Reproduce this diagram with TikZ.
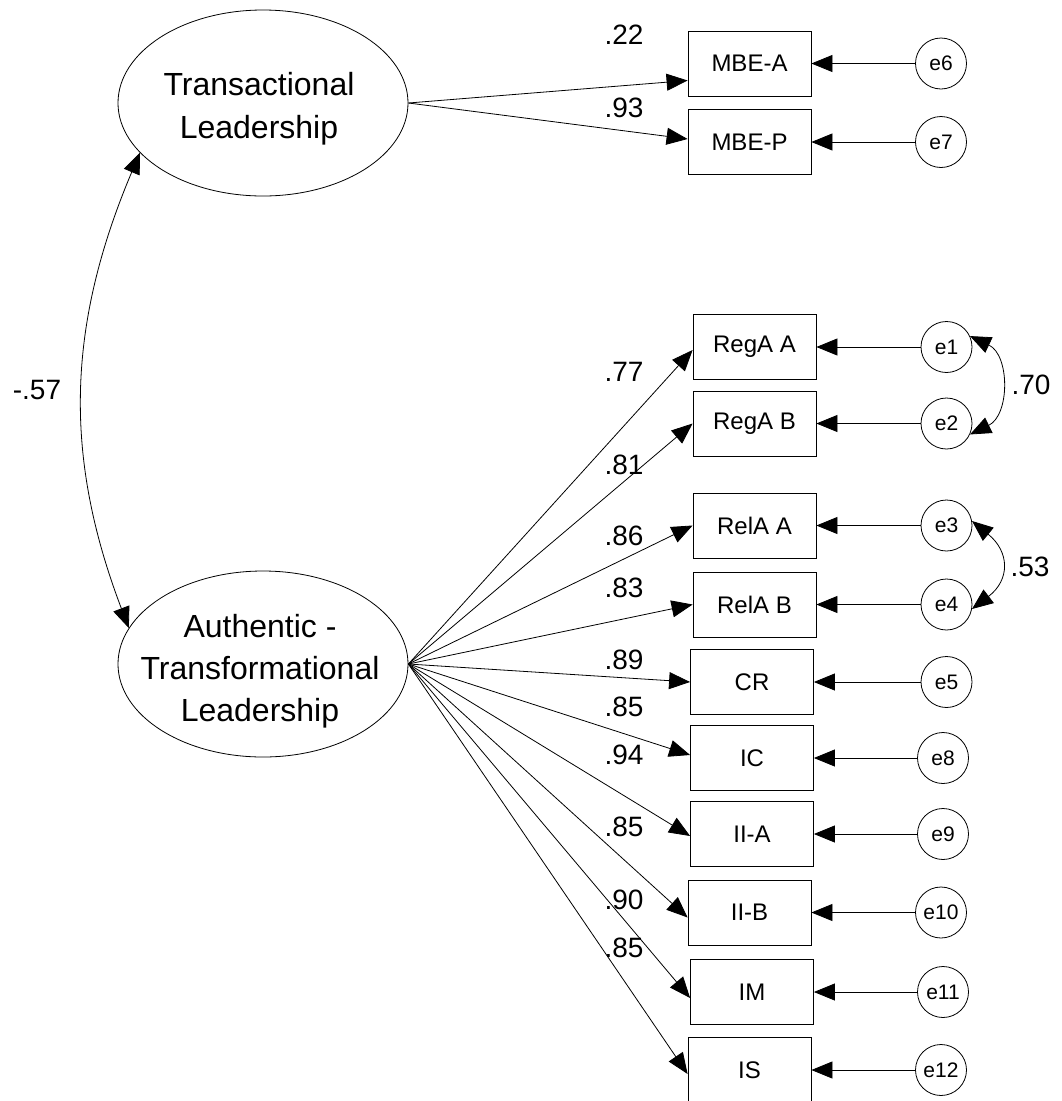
\documentclass[tikz,border=0pt]{standalone}
\usepackage{fontspec}
\setmainfont{Liberation Sans}
\usetikzlibrary{arrows.meta,shapes.geometric}
\begin{document}
\begin{tikzpicture}[x=1pt,y=-1pt,
  lat/.style={ellipse,draw,line width=0.8pt,minimum width=290pt,minimum height=186pt,inner sep=0pt},
  lattext/.style={inner sep=0pt,align=center},
  obs/.style={rectangle,draw,line width=0.8pt,minimum width=123pt,minimum height=65pt,inner sep=0pt,font=\fontsize{24}{28}\selectfont},
  err/.style={circle,draw,line width=0.8pt,minimum size=51pt,inner sep=0pt,font=\fontsize{21}{24}\selectfont},
  coef/.style={inner sep=0pt,font=\fontsize{28}{32}\selectfont},
  arr/.style={-{Triangle[length=21pt,width=17pt]},line width=0.8pt},
  dblarr/.style={{Triangle[length=21pt,width=17pt]}-{Triangle[length=21pt,width=17pt]},line width=0.8pt}
]
\useasboundingbox (0,0) rectangle (1062,1101);
% latent variables
\node[lat] (trans) at (263,103) {};
\node[lattext,font=\fontsize{32}{43}\selectfont] (transtxt) at (259,109) {Transactional\\Leadership};
\node[lat] (auth) at (263,664) {};
\node[lattext,font=\fontsize{32}{42}\selectfont] (authtxt) at (260,671) {Authentic -\\Transformational\\Leadership};
% observed
\node[obs] (mbea) at (749.5,63.5) {MBE-A};
\node[obs] (mbep) at (749.5,142) {MBE-P};
\node[obs] (rega) at (754.5,347) {RegA A};
\node[obs] (regb) at (754.5,423.5) {RegA B};
\node[obs] (rela) at (754.5,525.5) {RelA A};
\node[obs] (relb) at (754.5,604.5) {RelA B};
\node[obs] (cr) at (752,682) {CR};
\node[obs] (ic) at (752,758) {IC};
\node[obs] (iia) at (752,834) {II-A};
\node[obs] (iib) at (749.5,912.5) {II-B};
\node[obs] (im) at (752,992) {IM};
\node[obs] (is) at (749.5,1070) {IS};
% errors
\node[err] (e6) at (941,63.5) {e6};
\node[err] (e7) at (941,142) {e7};
\node[err] (e1) at (946.5,347) {e1};
\node[err] (e2) at (946.5,423.5) {e2};
\node[err] (e3) at (946.5,525.5) {e3};
\node[err] (e4) at (946.5,604.5) {e4};
\node[err] (e5) at (946.5,682) {e5};
\node[err] (e8) at (943,758) {e8};
\node[err] (e9) at (943,834) {e9};
\node[err] (e10) at (941,912.5) {e10};
\node[err] (e11) at (943,992) {e11};
\node[err] (e12) at (941,1070) {e12};
% loadings
\draw[arr] (trans.east) -- ([yshift=-17pt]mbea.west);
\draw[arr] (trans.east) -- ([yshift=3pt]mbep.west);
\foreach \t/\s in {rega/-3,regb/0,rela/0,relb/0,cr/0,ic/3,iia/-2,iib/-5,im/-6,is/-4}{
  \draw[arr] (auth.east) -- ([yshift=\s pt]\t.west);
}
% error paths
\foreach \e/\t in {e6/mbea,e7/mbep,e1/rega,e2/regb,e3/rela,e4/relb,e5/cr,e8/ic,e9/iia,e10/iib,e11/im,e12/is}{
  \draw[arr] (\e) -- (\t);
}
% covariances
\draw[dblarr] (trans.202) .. controls (65,330) and (65,460) .. (auth.165);
\draw[dblarr] (e1.25) .. controls (1010,355) and (1010,415) .. (e2.-25);
\draw[dblarr] (e3.10) .. controls (1010,552) and (1010,580) .. (e4.-10);
% coefficient labels
\node[coef] (c1) at (624,35) {.22};
\node[coef] (c2) at (624,108) {.93};
\node[coef] (c3) at (624,372) {.77};
\node[coef] (c4) at (624,465) {.81};
\node[coef] (c5) at (624,536) {.86};
\node[coef] (c6) at (624,588) {.83};
\node[coef] (c7) at (624,660) {.89};
\node[coef] (c8) at (624,707) {.85};
\node[coef] (c9) at (624,755) {.94};
\node[coef] (c10) at (624,827) {.85};
\node[coef] (c11) at (624,900) {.90};
\node[coef] (c12) at (624,948) {.85};
\node[coef] (c13) at (1031,385) {.70};
\node[coef] (c14) at (1030,567) {.53};
\node[coef] (c15) at (37,390) {-.57};
\end{tikzpicture}
\end{document}
